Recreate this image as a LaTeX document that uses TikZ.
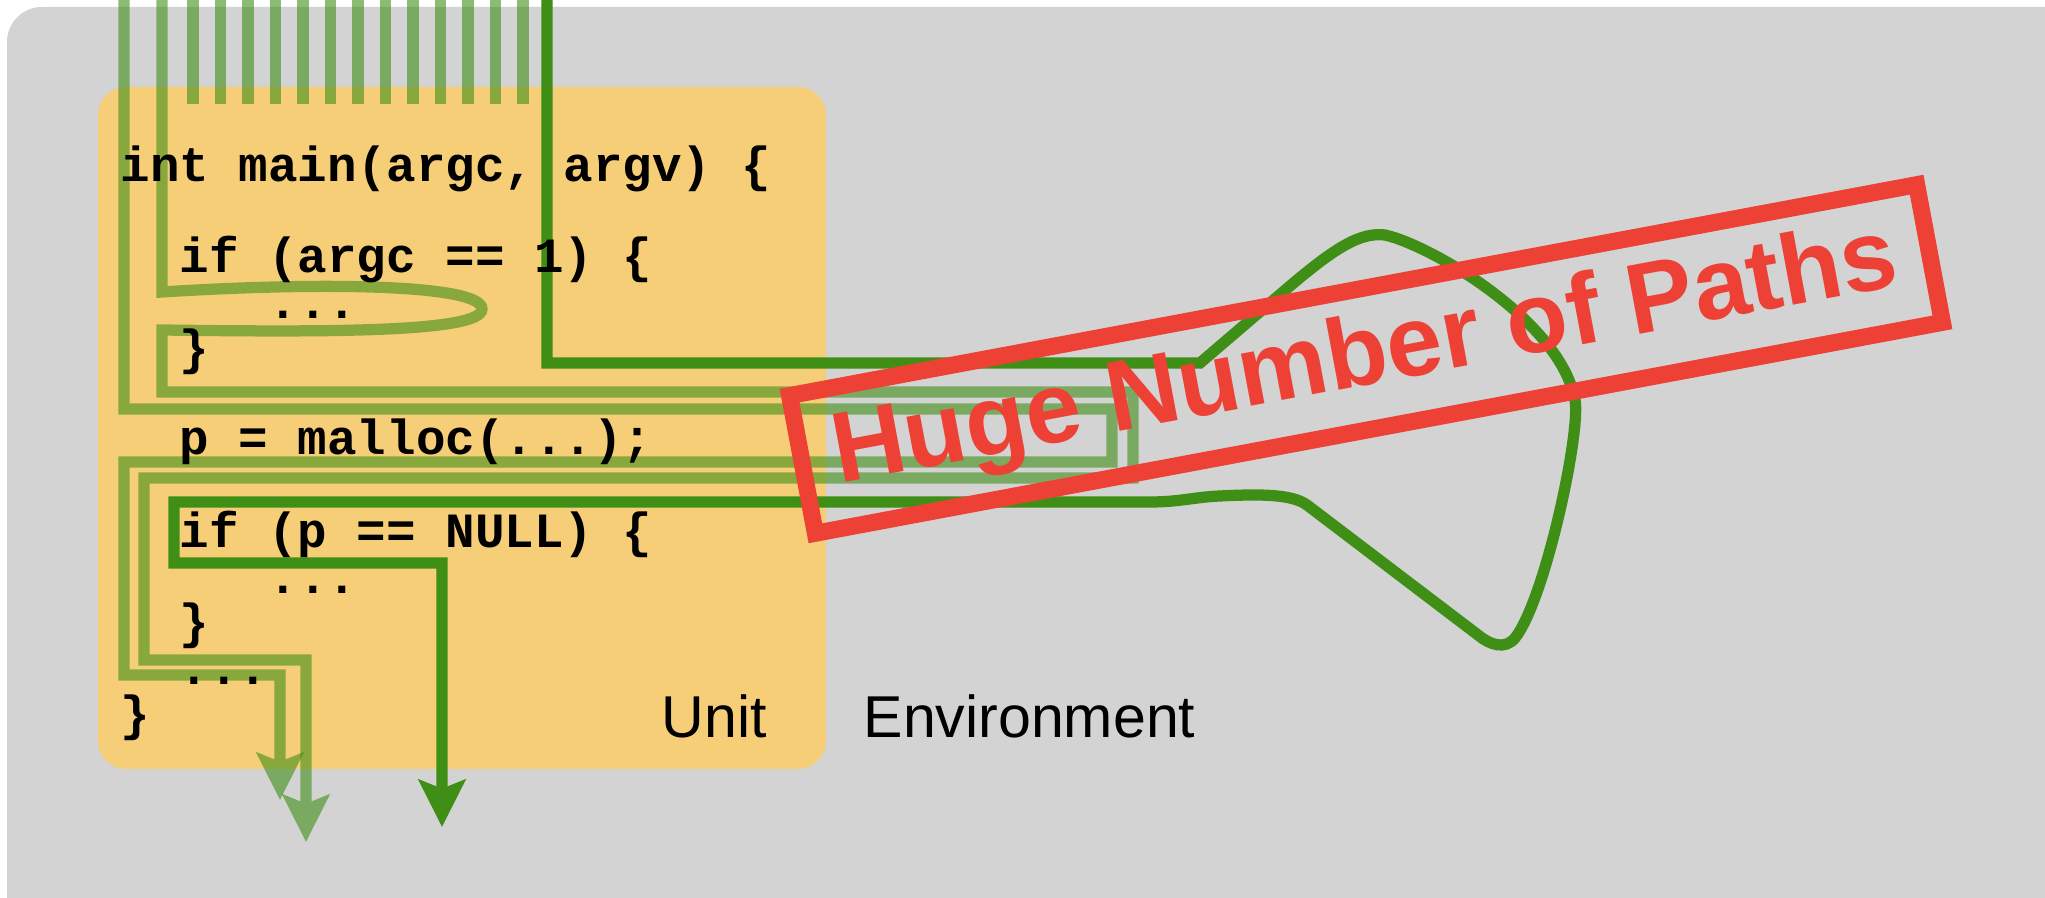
\documentclass[tikz,border=0pt]{standalone}
\usepackage{fontspec}
\usepackage{tikz}
\usetikzlibrary{arrows.meta,positioning,calc}
\newfontfamily\codefont{Liberation Mono}
\newfontfamily\labelfont{Liberation Sans}
\definecolor{envgray}{RGB}{211,211,211}
\definecolor{unityellow}{RGB}{247,206,120}
\definecolor{pathgreen}{RGB}{63,143,22}
\definecolor{stampred}{RGB}{238,65,54}
\tikzstyle{Codeline}=[anchor=base west,inner sep=0pt,font=\codefont\bfseries\fontsize{14pt}{14pt}\selectfont]
\tikzstyle{Boxlabel}=[anchor=base west,inner sep=0pt,font=\labelfont\fontsize{16.8pt}{16.8pt}\selectfont]
\tikzstyle{Stamp}=[draw=stampred,text=stampred,line width=0.17cm,minimum width=11.46cm,minimum height=1.40cm,inner sep=0pt,font=\labelfont\bfseries\fontsize{28.5pt}{28.5pt}\selectfont]
\tikzstyle{lightgroup}=[transparency group,opacity=0.6]
\tikzstyle{lightpath}=[draw=pathgreen,line width=3.2pt]
\tikzstyle{darkpath}=[draw=pathgreen,line width=3.2pt]
\tikzstyle{pathtip}=[-{Stealth[length=13.4pt,width=13.2pt,inset=2.5pt]}]

\begin{document}
\begin{tikzpicture}[x=0.01cm,y=-0.01cm]
 \useasboundingbox (0,0) rectangle (2045,898);
 \clip (0,0) rectangle (2045,898);

 % environment and unit
 \fill[envgray,rounded corners=0.35cm] (7,7) rectangle (2120,960);
 \fill[unityellow,rounded corners=0.28cm] (98,87) rectangle (826,769);

 \coordinate (inA) at (124,-5);
 \coordinate (outA) at (280,800);
 \coordinate (inB) at (162,-5);
 \coordinate (outB) at (306,842);
 \coordinate (inC) at (547,-5);
 \coordinate (outC) at (442,827);

 % many paths coming in
 \foreach \i in {0,...,12}
   \draw[lightpath,opacity=0.6] (193+27.5*\i,-5) -- (193+27.5*\i,104);

 \begin{scope}[lightgroup]
 \draw[lightpath,pathtip] (inA) -- (124,409) -- (1112,409) -- (1112,462)
   -- (124,462) -- (124,675) -- (280,675) -- (outA);
 \end{scope}

 \begin{scope}[lightgroup]
 \draw[lightpath,pathtip] (inB) -- (162,292)
   .. controls (320,282) and (482,284) .. (482,309)
   .. controls (482,333) and (320,332) .. (162,330)
   -- (162,392) -- (1133,392) -- (1133,478) -- (144,478) -- (144,660)
   -- (306,660) -- (outB);
 \end{scope}

 \draw[darkpath,pathtip] (inC) -- (547,363) -- (1200,363) -- (1290,286)
   .. controls (1335,248) and (1360,232) .. (1385,235)
   .. controls (1430,245) and (1560,320) .. (1575,400)
   .. controls (1581,432) and (1545,600) .. (1515,638)
   .. controls (1505,650) and (1490,645) .. (1478,635)
   -- (1307,505)
   .. controls (1292,494) and (1260,494) .. (1220,496)
   .. controls (1195,497) and (1180,502) .. (1150,502)
   -- (174,502) -- (174,563) -- (442,563) -- (outC);

 % code of the unit
 \node[Codeline] (main) at (120,182) {int main(argc, argv) \{};
 \node[Codeline] (if1) at (179,273) {if (argc == 1) \{};
 \node[Codeline] (body1) at (268,319) {...};
 \node[Codeline] (end1) at (179,365) {\}};
 \node[Codeline] (alloc) at (179,455) {p = malloc(...);};
 \node[Codeline] (if2) at (179,548) {if (p == NULL) \{};
 \node[Codeline] (body2) at (268,594) {...};
 \node[Codeline] (end2) at (179,639) {\}};
 \node[Codeline] (rest) at (179,685) {...};
 \node[Codeline] (endmain) at (120,731) {\}};

 \node[Boxlabel] (unit) at (661,738) {Unit};
 \node[Boxlabel] (env) at (863,738) {Environment};

 \node[Stamp,rotate=10.6] (stamp) at (1366,359) {Huge Number of Paths};

\end{tikzpicture}
\end{document}
